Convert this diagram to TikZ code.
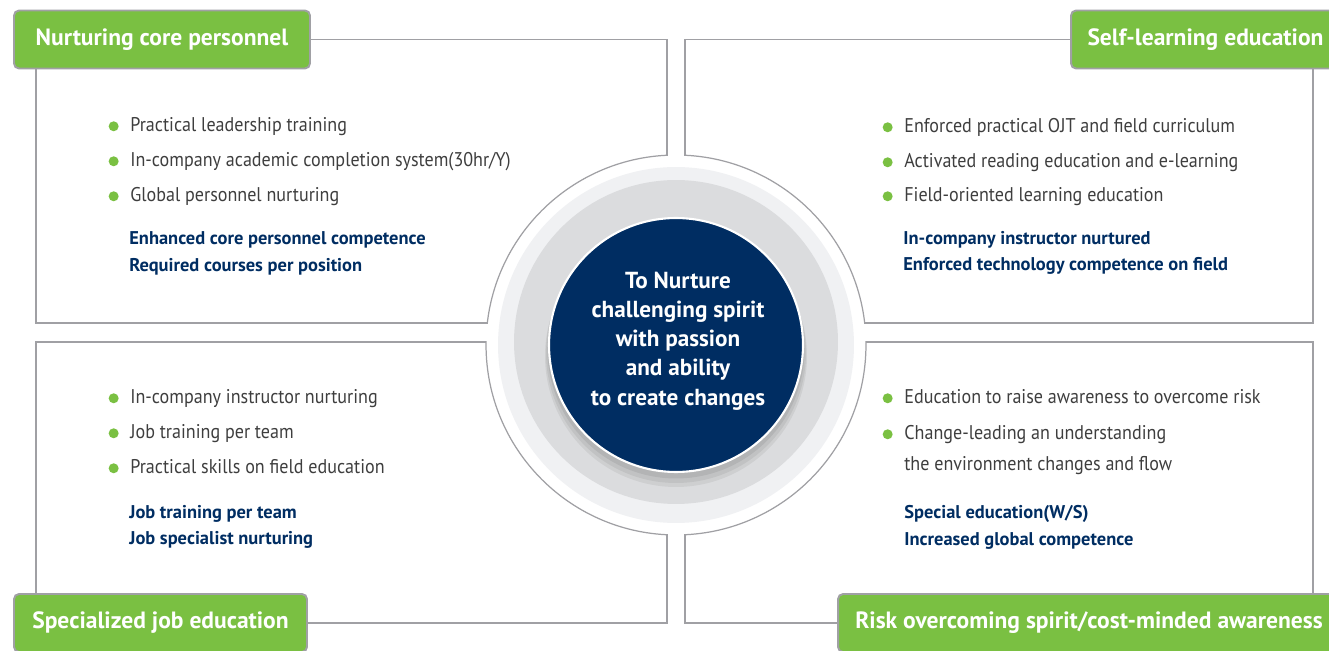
\documentclass[tikz,border=0pt]{standalone}
\usepackage{fontspec}
\setmainfont{PT Sans}
\newfontfamily\condfont[FakeStretch=0.91]{PT Sans}
\usetikzlibrary{positioning}

\definecolor{leafgreen}{RGB}{122,192,66}
\definecolor{deepnavy}{RGB}{0,45,98}
\definecolor{rulegray}{RGB}{160,160,164}
\definecolor{itemgray}{RGB}{62,62,62}
\definecolor{ringlight}{RGB}{240,241,243}
\definecolor{ringgray}{RGB}{219,220,222}

\begin{document}
\begin{tikzpicture}[x=0.02cm, y=-0.02cm,
  tagbox/.style={draw=rulegray, line width=1.1pt, fill=leafgreen,
    rounded corners=0.1cm, minimum height=1.16cm, inner sep=0pt,
    text=white, font=\bfseries\fontsize{13.4}{15}\selectfont,
    text height=9.5pt, text depth=2.7pt},
  panel/.style={draw=rulegray, line width=0.7pt},
  dot/.style={circle, fill=leafgreen, inner sep=0pt, minimum size=0.2cm},
  line/.style={anchor=base west, inner sep=0pt, text=itemgray,
    font=\condfont\fontsize{11.3}{13}\selectfont,
    text height=8.5pt, text depth=2pt},
  item/.style={line, label={[dot, label distance=0.22cm]left:{}}},
  lead/.style={anchor=base west, inner sep=0pt, text=deepnavy,
    font=\bfseries\fontsize{10.5}{12}\selectfont},
  core/.style={circle, fill=deepnavy, draw=white, line width=1.2pt,
    minimum size=5.08cm, inner sep=0pt},
  motto/.style={align=center, text=white, inner sep=0pt,
    font=\bfseries\fontsize{13.2}{16.6}\selectfont}]
\useasboundingbox (0,0) rectangle (1329,651);

% green tags in the four corners
\node[tagbox, minimum width=5.92cm] (tagTL) at (162,39.5) {Nurturing core personnel};
\node[tagbox, minimum width=5.38cm] (tagTR) at (1205.5,39.5) {Self-learning education};
\node[tagbox, minimum width=5.86cm] (tagBL) at (160.5,623) {Specialized job education};
\node[tagbox, minimum width=10.04cm] (tagBR) at (1089,623) {Risk overcoming spirit/cost-minded awareness};

% panel frames
\coordinate (hub) at (676,345);
\draw[panel] (tagTL.east) -| (667,345);
\draw[panel] (tagTL.south west) ++(23,0) |- (676,323);
\draw[panel] (tagTR.west) -| (685,345);
\draw[panel] (tagTR.south west) ++(243,0) |- (676,323);
\draw[panel] (tagBL.east) -| (667,345);
\draw[panel] (tagBL.north west) ++(23,0) |- (676,342);
\draw[panel] (tagBR.west) -| (685,345);
\draw[panel] (tagBR.north west) ++(476,0) |- (676,342);

% rings round the centre
\fill[white] (hub) circle[radius=3.8cm];
\draw[panel] (hub) circle[radius=3.8cm];
\fill[white] (668,140) rectangle (684,172);
\fill[white] (668,518) rectangle (684,550);
\fill[white] (475,324) rectangle (500,341);
\fill[white] (852,324) rectangle (877,341);
\fill[ringlight] (hub) circle[radius=3.56cm];
\fill[ringgray] (676,342) circle[radius=3.24cm];
\fill[black, opacity=0.06] (676,356) circle[radius=2.62cm];
\fill[black, opacity=0.06] (676,353) circle[radius=2.6cm];
\fill[black, opacity=0.07] (676,350) circle[radius=2.57cm];
\node[core] (core) at (hub) {};
\node[motto] (motto) at (678,341) {To Nurture\\challenging spirit\\with passion\\and ability\\to create changes};

% top left
\node[item] (tl1) at (130,132) {Practical leadership training};
\node[item] (tl2) at (130,167) {In-company academic completion system(30hr/Y)};
\node[item] (tl3) at (130,202) {Global personnel nurturing};
\node[lead] (tl4) at (129,245) {Enhanced core personnel competence};
\node[lead] (tl5) at (129,272) {Required courses per position};

% top right
\node[item] (tr1) at (904,133) {Enforced practical OJT and field curriculum};
\node[item] (tr2) at (904,168) {Activated reading education and e-learning};
\node[item] (tr3) at (904,202) {Field-oriented learning education};
\node[lead] (tr4) at (903,245) {In-company instructor nurtured};
\node[lead] (tr5) at (903,271) {Enforced technology competence on field};

% bottom left
\node[item] (bl1) at (130,404) {In-company instructor nurturing};
\node[item] (bl2) at (130,439) {Job training per team};
\node[item] (bl3) at (130,474) {Practical skills on field education};
\node[lead] (bl4) at (129,519) {Job training per team};
\node[lead] (bl5) at (129,545) {Job specialist nurturing};

% bottom right
\node[item] (br1) at (904,404) {Education to raise awareness to overcome risk};
\node[item] (br2) at (904,440) {Change-leading an understanding};
\node[line] (br3) at (904,471) {the environment changes and flow};
\node[lead] (br4) at (904,519) {Special education(W/S)};
\node[lead] (br5) at (904,546) {Increased global competence};
\end{tikzpicture}
\end{document}
